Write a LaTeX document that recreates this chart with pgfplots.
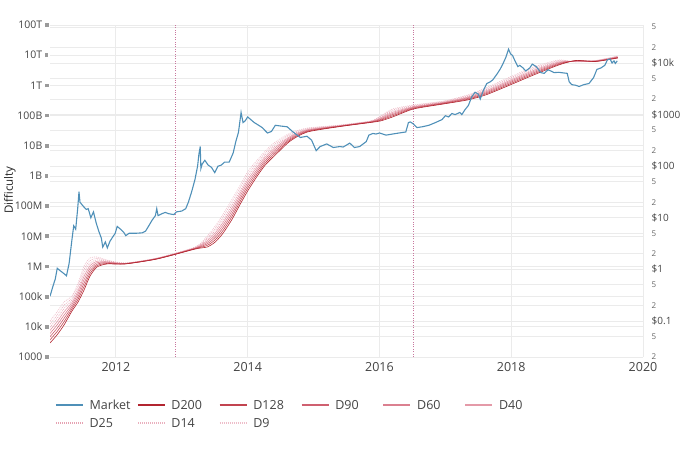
\documentclass[border=0pt]{standalone}
\usepackage{pgfplots}
\pgfplotsset{compat=1.18}
\usepackage{pgfplotstable}
\usepackage{fontspec}
\setmainfont{Open Sans}

\definecolor{gridc}{HTML}{EBEBEB}
\definecolor{tickc}{HTML}{444444}
\definecolor{minc}{HTML}{666666}
\definecolor{sq}{HTML}{9A9A9A}
\definecolor{mkt}{HTML}{4F90B8}
\definecolor{halv}{HTML}{C8789E}
\definecolor{rA}{HTML}{B22530}
\definecolor{rB}{HTML}{C24450}
\definecolor{rC}{HTML}{CF6070}
\definecolor{rD}{HTML}{DB8090}
\definecolor{rE}{HTML}{E49AA8}
\definecolor{rF}{HTML}{E6A2B2}
\definecolor{rG}{HTML}{EAB0BE}
\definecolor{rH}{HTML}{EEBDC9}

\newcommand{\ltk}[1]{#1\hspace{2.5bp}\textcolor{sq}{\rule[1.9bp]{3.7bp}{3.7bp}}}
\newcommand{\sm}[1]{{\fontsize{8bp}{9bp}\selectfont\textcolor{minc}{#1}}}
\newcommand{\lgd}[1]{\hspace{6bp}\makebox[47.5bp][l]{#1}}

% difficulty ribbons (moving averages)
\pgfplotstableread{
year d200 d128 d90 d60 d40 d25 d14 d9
2011.000 2.91e3 3.70e3 4.70e3 5.97e3 7.60e3 9.66e3 1.23e4 1.56e4
2011.106 5.36e3 6.89e3 8.85e3 1.14e4 1.46e4 1.88e4 2.41e4 3.10e4
2011.213 1.15e4 1.47e4 1.90e4 2.44e4 3.13e4 4.03e4 5.16e4 6.64e4
2011.334 3.34e4 3.94e4 4.63e4 5.46e4 6.43e4 7.57e4 8.91e4 1.05e5
2011.426 6.64e4 8.17e4 1.00e5 1.24e5 1.52e5 1.87e5 2.30e5 2.83e5
2011.517 1.66e5 2.16e5 2.80e5 3.64e5 4.72e5 6.14e5 7.98e5 1.04e6
2011.608 4.83e5 5.87e5 7.14e5 8.69e5 1.06e6 1.29e6 1.57e6 1.91e6
2011.714 9.59e5 1.07e6 1.19e6 1.33e6 1.48e6 1.65e6 1.85e6 2.06e6
2011.866 1.21e6 1.26e6 1.32e6 1.37e6 1.44e6 1.50e6 1.57e6 1.64e6
2012.140 1.21e6 1.22e6 1.23e6 1.25e6 1.26e6 1.27e6 1.29e6 1.30e6
2012.626 1.77e6 1.79e6 1.80e6 1.82e6 1.85e6 1.87e6 1.88e6 1.91e6
2013.204 3.78e6 3.87e6 3.95e6 4.05e6 4.13e6 4.23e6 4.32e6 4.42e6
2013.386 4.42e6 4.98e6 5.61e6 6.32e6 7.13e6 8.04e6 9.06e6 1.02e7
2013.508 6.46e6 7.69e6 9.16e6 1.09e7 1.30e7 1.55e7 1.84e7 2.19e7
2013.629 1.29e7 1.58e7 1.95e7 2.39e7 2.94e7 3.61e7 4.45e7 5.47e7
2013.766 3.74e7 4.66e7 5.78e7 7.19e7 8.94e7 1.11e8 1.38e8 1.72e8
2013.888 1.17e8 1.45e8 1.78e8 2.19e8 2.69e8 3.30e8 4.06e8 5.00e8
2014.009 3.41e8 4.20e8 5.16e8 6.35e8 7.82e8 9.62e8 1.18e9 1.46e9
2014.146 9.93e8 1.18e9 1.41e9 1.67e9 2.00e9 2.38e9 2.82e9 3.37e9
2014.267 2.30e9 2.68e9 3.13e9 3.64e9 4.24e9 4.94e9 5.75e9 6.70e9
2014.419 4.93e9 5.69e9 6.55e9 7.55e9 8.69e9 1.00e10 1.15e10 1.33e10
2014.647 1.44e10 1.57e10 1.71e10 1.87e10 2.03e10 2.22e10 2.42e10 2.64e10
2014.906 2.85e10 2.98e10 3.11e10 3.25e10 3.40e10 3.55e10 3.71e10 3.87e10
2015.407 4.34e10 4.41e10 4.48e10 4.55e10 4.63e10 4.71e10 4.79e10 4.86e10
2015.863 5.89e10 5.98e10 6.08e10 6.18e10 6.30e10 6.40e10 6.50e10 6.61e10
2016.015 6.61e10 6.98e10 7.36e10 7.78e10 8.20e10 8.67e10 9.14e10 9.66e10
2016.198 8.95e10 9.77e10 1.07e11 1.16e11 1.27e11 1.38e11 1.51e11 1.65e11
2016.517 1.65e11 1.72e11 1.80e11 1.88e11 1.96e11 2.05e11 2.14e11 2.24e11
2016.973 2.42e11 2.49e11 2.58e11 2.66e11 2.75e11 2.84e11 2.94e11 3.03e11
2017.337 3.28e11 3.47e11 3.66e11 3.86e11 4.07e11 4.31e11 4.54e11 4.80e11
2017.611 4.80e11 5.18e11 5.58e11 6.03e11 6.52e11 7.03e11 7.59e11 8.18e11
2017.945 9.53e11 1.04e12 1.14e12 1.24e12 1.35e12 1.48e12 1.61e12 1.76e12
2018.340 2.21e12 2.41e12 2.63e12 2.87e12 3.13e12 3.41e12 3.72e12 4.06e12
2018.720 4.73e12 5.00e12 5.27e12 5.57e12 5.89e12 6.21e12 6.56e12 6.93e12
2018.979 6.67e12 6.56e12 6.46e12 6.35e12 6.25e12 6.15e12 6.05e12 5.96e12
2019.283 6.18e12 6.25e12 6.31e12 6.38e12 6.46e12 6.53e12 6.59e12 6.67e12
2019.617 8.07e12 8.24e12 8.43e12 8.61e12 8.81e12 8.99e12 9.20e12 9.40e12
}\ribbon

% market price in USD (right axis)
\pgfplotstableread{
year price
2011.000 0.30
2011.040 0.45
2011.080 0.65
2011.110 1.05
2011.150 0.95
2011.200 0.85
2011.250 0.75
2011.290 1.3
2011.330 3.5
2011.360 7
2011.390 6
2011.420 15
2011.440 32
2011.455 20
2011.500 17
2011.550 14.5
2011.580 15
2011.620 10
2011.660 13
2011.700 8
2011.740 5.5
2011.780 4
2011.800 2.7
2011.840 3.4
2011.870 2.6
2011.910 3.5
2011.950 4.2
2011.990 5
2012.020 6.8
2012.070 6
2012.120 5.2
2012.150 4.5
2012.200 5
2012.300 5
2012.400 5.1
2012.450 5.5
2012.500 7
2012.550 9
2012.600 11
2012.620 15
2012.640 11
2012.700 12
2012.750 12.7
2012.800 12
2012.880 11.5
2012.920 13
2013.000 13.5
2013.060 15
2013.100 20
2013.150 32
2013.200 55
2013.240 100
2013.260 170
2013.280 240
2013.290 90
2013.310 110
2013.350 130
2013.400 105
2013.450 95
2013.500 75
2013.550 100
2013.600 105
2013.650 120
2013.720 120
2013.780 180
2013.820 300
2013.860 450
2013.900 1100
2013.930 700
2013.960 750
2014.000 900
2014.100 700
2014.150 640
2014.220 560
2014.300 440
2014.360 470
2014.420 620
2014.500 600
2014.600 580
2014.680 470
2014.750 400
2014.800 360
2014.900 380
2014.970 320
2015.040 200
2015.100 240
2015.200 270
2015.300 230
2015.400 240
2015.450 235
2015.550 280
2015.620 230
2015.700 240
2015.800 300
2015.840 400
2015.900 430
2015.950 420
2016.000 440
2016.100 400
2016.200 420
2016.300 440
2016.400 460
2016.440 700
2016.470 720
2016.520 650
2016.570 560
2016.650 580
2016.750 620
2016.850 700
2016.950 800
2017.000 950
2017.050 900
2017.100 1050
2017.150 1000
2017.220 1100
2017.250 1000
2017.300 1250
2017.350 1500
2017.400 2200
2017.450 2700
2017.500 2500
2017.530 2000
2017.580 3000
2017.630 4000
2017.680 4300
2017.720 4700
2017.780 6000
2017.830 7500
2017.880 10000
2017.920 13000
2017.960 18500
2017.990 15000
2018.020 14000
2018.050 11500
2018.100 8500
2018.130 9000
2018.180 8000
2018.220 7000
2018.280 8000
2018.320 9500
2018.380 8500
2018.450 6500
2018.500 6300
2018.560 7400
2018.600 7000
2018.650 6500
2018.720 6600
2018.800 6400
2018.850 6300
2018.880 4300
2018.920 3800
2018.980 3700
2019.030 3500
2019.100 3800
2019.180 4000
2019.250 5200
2019.300 7500
2019.360 8000
2019.420 9000
2019.460 11500
2019.500 12000
2019.530 10000
2019.560 11000
2019.580 9800
2019.610 11000
}\market

\pgfplotsset{
  myax/.style={
    at={(50bp,93bp)}, anchor=south west, scale only axis,
    width=593bp, height=332bp, xmin=2011, xmax=2020,
    axis line style={draw=none},
    major tick length=0pt, minor tick length=0pt, yminorticks=false,
    grid style={gridc, line width=0.8bp},
  },
}

\begin{document}
\begin{tikzpicture}
\useasboundingbox (0,0) rectangle (700bp,450bp);

% right scale: grid and dollar labels
\begin{axis}[myax, ymode=log,
    ymin=0.02, ymax=5.45e4,
    xtick=\empty, ymajorgrids,
    yticklabel pos=right,
    ytick={0.02,0.05,0.1,0.2,0.5,1,2,5,10,20,50,100,200,500,1000,2000,5000,10000,20000,50000},
    yticklabels={\sm{2},\sm{5},\$0.1,\sm{2},\sm{5},\$1,\sm{2},\sm{5},\$10,\sm{2},\sm{5},\$100,\sm{2},\sm{5},\$1000,\sm{2},\sm{5},\$10k,\sm{2},\sm{5}},
    yticklabel style={anchor=west, inner sep=0pt, xshift=8.5bp, text=tickc, font=\fontsize{10bp}{12bp}\selectfont},
  ]
\end{axis}

% left scale: difficulty ribbons
\begin{axis}[myax, ymode=log,
    ymin=1e3, ymax=1e14,
    xmajorgrids, ymajorgrids,
    xtick={2012,2014,2016,2018,2020},
    xticklabels={2012,2014,2016,2018,2020},
    xticklabel style={anchor=north, inner sep=0pt, yshift=-5bp, text=tickc, font=\fontsize{12.5bp}{14bp}\selectfont},
    ytick={1e3,1e4,1e5,1e6,1e7,1e8,1e9,1e10,1e11,1e12,1e13,1e14},
    yticklabels={\ltk{1000},\ltk{10k},\ltk{100k},\ltk{1M},\ltk{10M},\ltk{100M},\ltk{1B},\ltk{10B},\ltk{100B},\ltk{1T},\ltk{10T},\ltk{100T}},
    yticklabel style={anchor=east, inner sep=0pt, xshift=-1.3bp, text=tickc, font=\fontsize{10.5bp}{12bp}\selectfont},
    ylabel={Difficulty},
    ylabel style={at={(axis description cs:-0.0675,0.503)}, anchor=center, text=black!85, font=\fontsize{11.5bp}{13bp}\selectfont},
  ]
  \addplot[draw=halv, line width=1.1bp, dash pattern=on 1bp off 1.4bp] coordinates {(2012.90,1e3) (2012.90,1e14)};
  \addplot[draw=halv, line width=1.1bp, dash pattern=on 1bp off 1.4bp] coordinates {(2016.52,1e3) (2016.52,1e14)};
  \addplot[draw=rH, line width=0.6bp, smooth, tension=0.4, dash pattern=on 1bp off 1bp] table[x=year, y=d9] {\ribbon};
  \addplot[draw=rG, line width=0.6bp, smooth, tension=0.4, dash pattern=on 1bp off 1bp] table[x=year, y=d14] {\ribbon};
  \addplot[draw=rF, line width=0.6bp, smooth, tension=0.4, dash pattern=on 1bp off 1bp] table[x=year, y=d25] {\ribbon};
  \addplot[draw=rE, line width=0.6bp, smooth, tension=0.4] table[x=year, y=d40] {\ribbon};
  \addplot[draw=rD, line width=0.6bp, smooth, tension=0.4] table[x=year, y=d60] {\ribbon};
  \addplot[draw=rC, line width=0.6bp, smooth, tension=0.4] table[x=year, y=d90] {\ribbon};
  \addplot[draw=rB, line width=0.6bp, smooth, tension=0.4] table[x=year, y=d128] {\ribbon};
  \addplot[draw=rA, line width=0.6bp, smooth, tension=0.4] table[x=year, y=d200] {\ribbon};
\end{axis}

% market price on the right scale, with the legend
\begin{axis}[myax, ymode=log,
    ymin=0.02, ymax=5.45e4, hide axis,
    legend columns=6,
    legend style={draw=none, fill=none, inner sep=0pt,
      at={(axis description cs:0.0084,-0.131)}, anchor=north west,
      font=\fontsize{12.5bp}{14bp}\selectfont,
      nodes={inner sep=0pt, text height=9bp, text depth=0bp, text=tickc},
      row sep=9bp, column sep=0pt},
  ]
  \addplot[draw=mkt, line width=1.1bp, no markers,
    legend image code/.code={\draw[mkt, line width=1.4bp] (0bp,0bp) -- (27bp,0bp);}]
    table[x=year, y=price] {\market};
  \addlegendentry{\lgd{Market}}
  \addlegendimage{legend image code/.code={\draw[rA, line width=1.4bp] (0bp,0bp) -- (27bp,0bp);}}
  \addlegendentry{\lgd{D200}}
  \addlegendimage{legend image code/.code={\draw[rB, line width=1.4bp] (0bp,0bp) -- (27bp,0bp);}}
  \addlegendentry{\lgd{D128}}
  \addlegendimage{legend image code/.code={\draw[rC, line width=1.4bp] (0bp,0bp) -- (27bp,0bp);}}
  \addlegendentry{\lgd{D90}}
  \addlegendimage{legend image code/.code={\draw[rD, line width=1.4bp] (0bp,0bp) -- (27bp,0bp);}}
  \addlegendentry{\lgd{D60}}
  \addlegendimage{legend image code/.code={\draw[rE, line width=1.4bp] (0bp,0bp) -- (27bp,0bp);}}
  \addlegendentry{\lgd{D40}}
  \addlegendimage{legend image code/.code={\draw[rF, line width=1.4bp, dash pattern=on 1bp off 1bp] (0bp,0bp) -- (27bp,0bp);}}
  \addlegendentry{\lgd{D25}}
  \addlegendimage{legend image code/.code={\draw[rG, line width=1.4bp, dash pattern=on 1bp off 1bp] (0bp,0bp) -- (27bp,0bp);}}
  \addlegendentry{\lgd{D14}}
  \addlegendimage{legend image code/.code={\draw[rH, line width=1.4bp, dash pattern=on 1bp off 1bp] (0bp,0bp) -- (27bp,0bp);}}
  \addlegendentry{\lgd{D9}}
\end{axis}
\end{tikzpicture}
\end{document}
